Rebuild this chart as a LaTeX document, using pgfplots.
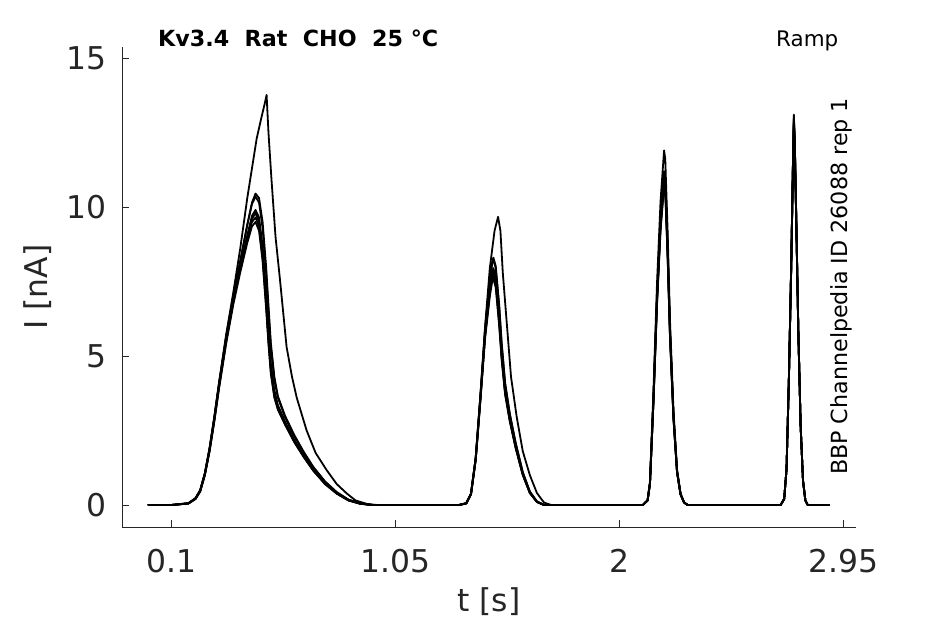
\documentclass[border=0pt]{standalone}
\usepackage{pgfplots}
\pgfplotsset{compat=1.18}
\usepackage{pgfplotstable}
\usepackage{fontspec}
\setmainfont{DejaVu Sans}
\definecolor{axgray}{HTML}{262626}

\pgfplotstableread{
t a b c d e f
0.00 0 0 0 0 0 0
0.10 0 0 0 0 0 0
0.17 0.05 0.05 0.06 0.05 0.06 0.05
0.20 0.20 0.22 0.21 0.20 0.23 0.22
0.22 0.45 0.48 0.47 0.46 0.50 0.49
0.24 1.00 1.05 1.03 1.02 1.08 1.06
0.26 1.80 1.88 1.85 1.83 1.92 1.90
0.28 2.80 2.90 2.86 2.84 2.96 2.93
0.30 3.90 4.02 3.98 3.95 4.10 4.06
0.33 5.40 5.55 5.50 5.47 5.65 5.60
0.36 6.70 6.85 6.82 6.80 7.00 6.95
0.39 7.80 7.95 7.95 7.95 8.20 8.15
0.42 8.80 8.95 9.00 9.05 9.40 9.40
0.44 9.35 9.50 9.60 9.70 10.10 10.15
0.455 9.50 9.65 9.80 9.90 10.35 10.45
0.47 9.20 9.35 9.50 9.65 10.15 10.30
0.485 8.20 8.30 8.50 8.70 9.30 9.50
0.50 6.60 6.70 6.90 7.10 7.80 8.00
0.51 5.40 5.50 5.65 5.85 6.50 6.70
0.52 4.40 4.50 4.60 4.75 5.30 5.45
0.535 3.60 3.65 3.75 3.85 4.20 4.30
0.55 3.20 3.22 3.30 3.35 3.60 3.65
0.58 2.70 2.72 2.78 2.80 2.95 3.00
0.62 2.10 2.12 2.16 2.18 2.30 2.34
0.66 1.60 1.62 1.65 1.66 1.75 1.78
0.70 1.15 1.16 1.18 1.20 1.27 1.28
0.75 0.70 0.71 0.72 0.73 0.78 0.79
0.80 0.38 0.38 0.39 0.40 0.42 0.43
0.85 0.15 0.15 0.16 0.16 0.17 0.18
0.90 0.04 0.04 0.04 0.05 0.05 0.05
0.95 0 0 0 0 0 0
1.32 0 0 0 0 0 0
1.35 0.05 0.05 0.06 0.05 0.06 0.06
1.37 0.35 0.37 0.36 0.36 0.38 0.38
1.39 1.50 1.55 1.53 1.52 1.58 1.57
1.41 3.50 3.58 3.56 3.55 3.65 3.64
1.43 5.60 5.70 5.72 5.75 5.90 5.92
1.45 7.00 7.12 7.20 7.28 7.55 7.60
1.46 7.50 7.62 7.72 7.82 8.10 8.15
1.465 7.60 7.72 7.85 7.95 8.25 8.30
1.475 7.30 7.42 7.55 7.65 7.95 8.02
1.49 6.00 6.08 6.20 6.30 6.60 6.70
1.50 4.90 4.95 5.05 5.12 5.40 5.48
1.515 3.70 3.74 3.80 3.85 4.05 4.10
1.535 2.80 2.82 2.86 2.89 3.02 3.06
1.56 1.90 1.91 1.94 1.96 2.05 2.08
1.59 1.00 1.01 1.03 1.04 1.09 1.10
1.62 0.40 0.40 0.41 0.42 0.44 0.45
1.65 0.10 0.10 0.10 0.11 0.11 0.12
1.68 0 0 0 0 0 0
2.10 0 0 0 0 0 0
2.12 0.15 0.15 0.16 0.15 0.16 0.16
2.13 0.70 0.71 0.72 0.70 0.73 0.74
2.145 3.50 3.53 3.56 3.47 3.60 3.63
2.16 6.80 6.86 6.92 6.74 7.00 7.06
2.175 9.30 9.38 9.47 9.22 9.56 9.65
2.19 10.80 10.90 11.00 10.70 11.10 11.20
2.195 10.60 10.70 10.80 10.50 10.90 11.00
2.205 8.40 8.47 8.55 8.32 8.63 8.71
2.215 5.70 5.75 5.80 5.65 5.86 5.91
2.23 2.90 2.93 2.95 2.87 2.98 3.01
2.245 1.10 1.11 1.12 1.09 1.13 1.14
2.26 0.35 0.35 0.36 0.35 0.36 0.36
2.275 0.08 0.08 0.08 0.08 0.08 0.08
2.29 0 0 0 0 0 0
2.685 0 0 0 0 0 0
2.70 0.20 0.20 0.20 0.20 0.20 0.20
2.71 1.20 1.20 1.21 1.19 1.21 1.22
2.72 4.20 4.22 4.23 4.18 4.25 4.27
2.73 8.00 8.03 8.06 7.97 8.09 8.12
2.737 11.20 11.24 11.29 11.15 11.33 11.38
2.741 12.80 12.85 12.90 12.75 12.95 13.00
2.745 12.00 12.05 12.09 11.95 12.14 12.19
2.752 9.20 9.24 9.27 9.16 9.31 9.35
2.76 5.80 5.82 5.85 5.77 5.87 5.89
2.77 2.60 2.61 2.62 2.59 2.63 2.64
2.78 0.80 0.80 0.81 0.80 0.81 0.81
2.79 0.15 0.15 0.15 0.15 0.15 0.15
2.80 0 0 0 0 0 0
2.89 0 0 0 0 0 0
}\traces

\pgfplotstableread{
t i
0.00 0
0.10 0
0.17 0.05
0.20 0.21
0.22 0.47
0.24 1.04
0.26 1.88
0.28 2.92
0.30 4.08
0.33 5.70
0.36 7.10
0.39 8.60
0.42 10.30
0.44 11.30
0.46 12.30
0.48 13.00
0.495 13.50
0.502 13.76
0.51 12.50
0.523 10.90
0.54 9.00
0.559 7.55
0.587 5.30
0.61 4.30
0.63 3.60
0.672 2.50
0.71 1.75
0.757 1.17
0.80 0.70
0.842 0.39
0.88 0.15
0.93 0.03
0.97 0
1.32 0
1.35 0.06
1.37 0.38
1.39 1.58
1.41 3.70
1.43 6.00
1.45 7.95
1.47 9.20
1.485 9.67
1.495 9.20
1.505 7.80
1.52 6.30
1.54 4.30
1.564 2.96
1.59 1.80
1.62 1.00
1.65 0.40
1.68 0.08
1.71 0
2.10 0
2.12 0.17
2.13 0.78
2.145 3.85
2.16 7.45
2.175 10.20
2.19 11.90
2.195 11.60
2.205 9.20
2.215 6.20
2.23 3.15
2.245 1.20
2.26 0.38
2.275 0.09
2.29 0
2.685 0
2.70 0.21
2.71 1.22
2.72 4.30
2.73 8.15
2.737 11.40
2.741 13.10
2.745 12.25
2.752 9.40
2.76 5.90
2.77 2.65
2.78 0.82
2.79 0.16
2.80 0
2.89 0
}\bigtrace

\tikzset{trace/.style={black, line width=1.8bp, line join=round, line cap=round, mark=none}}

\begin{document}
\begin{tikzpicture}
\begin{axis}[
  at={(0,0)}, anchor=south west,
  scale only axis,
  width=734bp, height=480bp,
  xmin=-0.112, xmax=3.005,
  ymin=-0.74, ymax=15.37,
  axis x line*=bottom, axis y line*=left,
  axis line style={-, draw=axgray, line width=0.9bp},
  tick style={draw=axgray, line width=0.9bp},
  tick align=inside,
  major tick length=7bp,
  xtick={0.1,1.05,2,2.95},
  xticklabels={0.1,1.05,2,2.95},
  ytick={0,5,10,15},
  yticklabels={0,5,10,15},
  /pgf/number format/assume math mode=true,
  xticklabel style={font=\fontsize{31.5}{36}\selectfont, text=axgray, anchor=base, inner sep=0pt, yshift=-45bp},
  yticklabel style={font=\fontsize{31.5}{36}\selectfont, text=axgray, anchor=east, inner sep=0pt, xshift=-15bp},
  xlabel={t [s]},
  ylabel={I [nA]},
  xlabel style={font=\fontsize{31.5}{36}\selectfont, text=axgray, at={(axis description cs:0.5,-0.177)}, anchor=base},
  ylabel style={font=\fontsize{31.5}{36}\selectfont, text=axgray, at={(axis description cs:-0.1144,0.5)}, anchor=center, rotate=0},
  clip=false,
]
\addplot[trace] table[x=t, y=a] {\traces};
\addplot[trace] table[x=t, y=b] {\traces};
\addplot[trace] table[x=t, y=c] {\traces};
\addplot[trace] table[x=t, y=d] {\traces};
\addplot[trace] table[x=t, y=e] {\traces};
\addplot[trace] table[x=t, y=f] {\traces};
\addplot[trace] table[x=t, y=i] {\bigtrace};
\node[anchor=base west, inner sep=0pt, font=\fontsize{22.3}{26}\selectfont\bfseries] at (rel axis cs:0.049,1.0) {Kv3.4\ \ Rat\ \ CHO\ \ 25 °C};
\node[anchor=base west, inner sep=0pt, font=\fontsize{21.5}{25}\selectfont] at (rel axis cs:0.891,1.002) {Ramp};
\node[anchor=base west, inner sep=0pt, rotate=90, font=\fontsize{22.3}{26}\selectfont] at (rel axis cs:0.989,0.108) {BBP Channelpedia ID 26088 rep 1};
\end{axis}
\pgfresetboundingbox
\path[use as bounding box] (-122bp,-97bp) rectangle (823bp,527bp);
\end{tikzpicture}
\end{document}
